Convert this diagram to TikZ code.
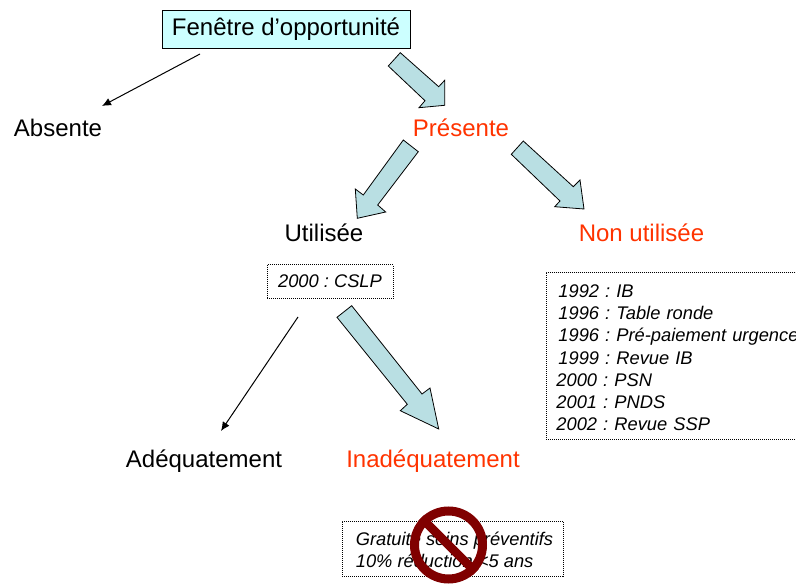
\documentclass[tikz,border=0pt]{standalone}
\usepackage{fontspec}
\setmainfont{Liberation Sans}
\frenchspacing
\definecolor{redtxt}{HTML}{FF3300}
\definecolor{arrowfill}{HTML}{B9DFE3}
\definecolor{topfill}{HTML}{CCFFFF}
\definecolor{norouge}{HTML}{800000}
\usetikzlibrary{arrows.meta}
\tikzset{
  big/.style={font=\fontsize{24}{28}\selectfont,inner sep=0pt,text=black,anchor=base},
  bigred/.style={big,text=redtxt},
  dotbox/.style={draw=black,line width=.8pt,dash pattern=on 1pt off 1pt,fill=white,inner sep=0pt,font=\fontsize{18.3}{22.3}\selectfont\itshape\frenchspacing,align=left},
  blockarrow/.style={draw=black,line width=.8pt,fill=arrowfill,line join=miter},
  thinarrow/.style={draw=black,line width=1pt,-{Latex[length=9pt,width=8pt]}},
}
\begin{document}
\begin{tikzpicture}[x=1pt,y=-1pt]
\useasboundingbox (0,0) rectangle (796,586);
\node[draw=black,line width=1pt,fill=topfill,minimum width=248pt,minimum height=38pt,inner sep=0pt,font=\fontsize{24}{28}\selectfont] (top) at (286,29.5) {\raisebox{-2pt}{Fenêtre d’opportunité}};
\node[big] (absente) at (58,136) {Absente};
\node[bigred] (presente) at (461,136) {Présente};
\node[big] (utilisee) at (324,241) {Utilisée};
\node[bigred] (nonutil) at (641.5,241) {Non utilisée};
\node[big] (adequat) at (204,467) {Adéquatement};
\node[bigred] (inadequat) at (433,467) {Inadéquatement};
\node[dotbox,minimum width=126pt,minimum height=34pt] (cslp) at (330,281.5) {2000 : CSLP};
\node[dotbox,anchor=north west,minimum width=254pt,minimum height=167pt,text width=254pt] (liste) at (546,272) {%
\rule{0pt}{16.5pt}\hspace*{12pt}1992 : IB\\
\hspace*{12pt}1996 : Table ronde\\
\hspace*{12pt}1996 : Pré-paiement urgence\\
\hspace*{12pt}1999 : Revue IB\\
\hspace*{10pt}2000 : PSN\\
\hspace*{10pt}2001 : PNDS\\
\hspace*{10pt}2002 : Revue SSP};
\node[dotbox,minimum width=221pt,minimum height=55pt] (gratuite) at (452.5,548.5) {\rule{0pt}{16.5pt}\hspace*{4pt}Gratuité soins préventifs\\\hspace*{4pt}10\% réduction <5 ans};
% no-entry sign
\node[circle,draw=norouge,line width=9pt,minimum size=68pt,inner sep=0pt] (interdit) at (448.5,545) {};
\draw[norouge,line width=8.5pt] (interdit.135) -- (interdit.-45);
% thin arrows
\coordinate (a1) at (200,54); \coordinate (a2) at (102,106);
\coordinate (b1) at (298,317); \coordinate (b2) at (221,431);
\draw[thinarrow] (a1) -- (a2);
\draw[thinarrow] (b1) -- (b2);
% block arrows
\draw[blockarrow] (400.3,52.7) -- (388.3,66) -- (425,100.7) -- (419,107.7) -- (444.7,105.3) -- (444.7,80.3) -- (438.7,86.7) -- cycle;
\draw[blockarrow] (403.3,140) -- (418.3,151.7) -- (377.7,205) -- (385.7,212) -- (357.3,218.3) -- (355.3,189) -- (363.3,195) -- cycle;
\draw[blockarrow] (523.3,141) -- (511.3,154.3) -- (560,201) -- (554.7,206.7) -- (584,209) -- (580,180) -- (573.3,186.7) -- cycle;
\draw[blockarrow] (351.7,305.7) -- (337,317.3) -- (407.3,404.3) -- (400.3,410.7) -- (438.7,429) -- (430,388) -- (422,394) -- cycle;
\end{tikzpicture}
\end{document}
